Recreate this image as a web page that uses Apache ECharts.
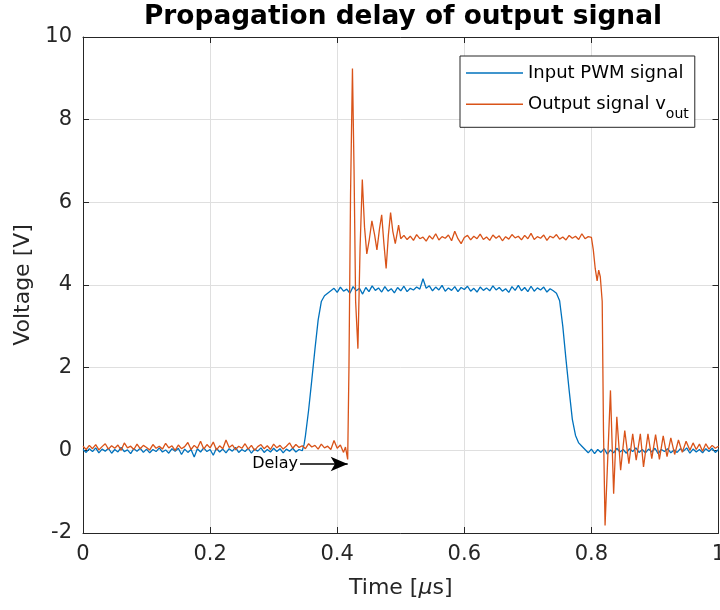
<!DOCTYPE html>
<html>
<head>
<meta charset="utf-8">
<script src="https://cdn.jsdelivr.net/npm/echarts@6/dist/echarts.min.js"></script>
<style>
html,body{margin:0;padding:0;background:#fff;}
#chart{width:720px;height:610px;}
</style>
</head>
<body>
<div id="chart"></div>
<script>
// ---- data (time in µs, voltage in V) ----
const inputName = 'Input PWM signal';
const outputName = 'Output signal vout';

const inputSignal = [
[0.000,0.02],[0.005,-0.05],[0.010,0.04],[0.015,-0.03],[0.020,0.06],[0.025,-0.06],[0.030,0.03],[0.035,-0.02],[0.040,0.05],[0.045,-0.07],
[0.050,0.02],[0.055,-0.04],[0.060,0.07],[0.065,-0.03],[0.070,0.01],[0.075,-0.08],[0.080,0.04],[0.085,-0.02],[0.090,0.05],[0.095,-0.05],
[0.100,0.03],[0.105,-0.06],[0.110,0.02],[0.115,-0.03],[0.120,0.06],[0.125,-0.04],[0.130,0.01],[0.135,-0.07],[0.140,0.04],[0.145,-0.02],
[0.150,0.05],[0.155,-0.10],[0.160,0.03],[0.165,-0.05],[0.170,0.02],[0.175,-0.16],[0.180,0.04],[0.185,-0.04],[0.190,0.06],[0.195,-0.03],
[0.200,0.02],[0.205,-0.12],[0.210,0.05],[0.215,-0.04],[0.220,0.03],[0.225,-0.06],[0.230,0.04],[0.235,-0.02],[0.240,0.07],[0.245,-0.05],
[0.250,0.02],[0.255,-0.03],[0.260,0.05],[0.265,-0.07],[0.270,0.03],[0.275,-0.02],[0.280,0.06],[0.285,-0.05],[0.290,0.02],[0.295,-0.04],
[0.300,0.05],[0.305,-0.03],[0.310,0.04],[0.315,-0.06],[0.320,0.03],[0.325,-0.02],[0.330,0.05],[0.335,-0.04],[0.340,0.02],[0.345,-0.01],
[0.348,0.15],[0.350,0.35],[0.355,0.97],[0.360,1.70],[0.365,2.45],[0.370,3.15],[0.375,3.60],[0.380,3.74],[0.385,3.80],[0.390,3.86],
[0.395,3.92],[0.400,3.82],[0.405,3.95],[0.410,3.85],[0.415,3.90],[0.420,3.80],[0.425,3.96],[0.430,3.86],[0.435,3.92],[0.440,3.78],
[0.445,3.94],[0.450,3.84],[0.455,3.98],[0.460,3.87],[0.465,3.93],[0.470,3.83],[0.475,3.96],[0.480,3.85],[0.485,3.91],[0.490,3.81],
[0.495,3.94],[0.500,3.86],[0.505,3.97],[0.510,3.84],[0.515,3.92],[0.520,3.88],[0.525,3.95],[0.530,3.90],[0.535,4.15],[0.540,3.92],
[0.545,3.98],[0.550,3.86],[0.555,3.95],[0.560,3.88],[0.565,3.99],[0.570,3.85],[0.575,3.93],[0.580,3.87],[0.585,3.96],[0.590,3.84],
[0.595,3.94],[0.600,3.89],[0.605,3.97],[0.610,3.85],[0.615,3.92],[0.620,3.83],[0.625,3.95],[0.630,3.87],[0.635,3.93],[0.640,3.86],
[0.645,3.98],[0.650,3.88],[0.655,3.94],[0.660,3.85],[0.665,3.91],[0.670,3.82],[0.675,3.96],[0.680,3.87],[0.685,3.99],[0.690,3.86],
[0.695,3.94],[0.700,3.84],[0.705,3.97],[0.710,3.85],[0.715,3.93],[0.720,3.88],[0.725,3.95],[0.730,3.83],[0.735,3.91],[0.740,3.86],
[0.745,3.80],[0.750,3.62],[0.755,3.00],[0.760,2.20],[0.765,1.45],[0.770,0.75],[0.775,0.36],[0.780,0.18],[0.785,0.10],[0.790,0.02],
[0.795,-0.06],[0.800,0.03],[0.805,-0.08],[0.810,0.02],[0.815,-0.05],[0.820,0.04],[0.825,-0.09],[0.830,0.01],[0.835,-0.06],[0.840,0.05],
[0.845,-0.04],[0.850,0.02],[0.855,-0.07],[0.860,0.04],[0.865,-0.03],[0.870,0.06],[0.875,-0.05],[0.880,0.02],[0.885,-0.06],[0.890,0.03],
[0.895,-0.04],[0.900,0.05],[0.905,-0.08],[0.910,0.02],[0.915,-0.03],[0.920,0.04],[0.925,-0.06],[0.930,0.01],[0.935,-0.05],[0.940,0.04],
[0.945,-0.02],[0.950,0.06],[0.955,-0.07],[0.960,0.03],[0.965,-0.04],[0.970,0.02],[0.975,-0.06],[0.980,0.04],[0.985,-0.03],[0.990,0.05],
[0.995,-0.05],[1.000,0.02]
];

const outputSignal = [
[0.000,0.10],[0.005,0.02],[0.010,0.12],[0.015,0.04],[0.020,0.14],[0.025,0.01],[0.030,0.09],[0.035,0.16],[0.040,0.03],[0.045,0.11],
[0.050,0.05],[0.055,0.13],[0.060,0.00],[0.065,0.18],[0.070,0.06],[0.075,0.10],[0.080,0.02],[0.085,0.15],[0.090,0.04],[0.095,0.12],
[0.100,0.07],[0.105,0.01],[0.110,0.14],[0.115,0.05],[0.120,0.10],[0.125,0.03],[0.130,0.17],[0.135,0.06],[0.140,0.11],[0.145,0.00],
[0.150,0.13],[0.155,0.04],[0.160,0.09],[0.165,0.19],[0.170,0.02],[0.175,0.12],[0.180,0.05],[0.185,0.22],[0.190,0.03],[0.195,0.14],
[0.200,0.06],[0.205,0.20],[0.210,0.01],[0.215,0.11],[0.220,0.04],[0.225,0.25],[0.230,0.07],[0.235,0.13],[0.240,0.02],[0.245,0.10],
[0.250,0.05],[0.255,0.16],[0.260,0.03],[0.265,0.12],[0.270,0.00],[0.275,0.09],[0.280,0.14],[0.285,0.04],[0.290,0.11],[0.295,0.02],
[0.300,0.15],[0.305,0.06],[0.310,0.12],[0.315,0.03],[0.320,0.10],[0.325,0.18],[0.330,0.05],[0.335,0.14],[0.340,0.07],[0.345,0.11],
[0.350,0.04],[0.355,0.16],[0.360,0.08],[0.365,0.12],[0.370,0.03],[0.375,0.15],[0.380,0.06],[0.385,0.10],[0.390,0.02],[0.395,0.24],
[0.400,0.05],[0.405,0.13],[0.410,-0.05],[0.413,0.08],[0.4165,-0.22],
[0.4185,2.00],[0.4210,6.20],[0.4240,9.24],[0.4265,6.80],[0.4290,3.60],[0.4326,2.46],[0.4360,4.90],[0.4395,6.55],[0.4430,5.40],[0.4466,4.75],
[0.4505,5.10],[0.4546,5.55],[0.4590,5.20],[0.4625,4.85],[0.4665,5.35],[0.4700,5.70],[0.4735,5.00],[0.4770,4.40],[0.4805,5.20],[0.4840,5.75],
[0.4875,5.30],[0.4914,5.00],[0.4966,5.45],[0.5000,5.12],
[0.505,5.20],[0.510,5.10],[0.515,5.18],[0.520,5.08],[0.525,5.22],[0.530,5.12],[0.535,5.16],[0.540,5.06],[0.545,5.19],[0.550,5.11],
[0.555,5.24],[0.560,5.09],[0.565,5.17],[0.570,5.13],[0.575,5.21],[0.580,5.07],[0.585,5.30],[0.590,5.12],[0.595,5.00],[0.600,5.15],
[0.605,5.20],[0.610,5.09],[0.615,5.18],[0.620,5.12],[0.625,5.23],[0.630,5.10],[0.635,5.16],[0.640,5.08],[0.645,5.21],[0.650,5.13],
[0.655,5.19],[0.660,5.07],[0.665,5.17],[0.670,5.11],[0.675,5.22],[0.680,5.14],[0.685,5.18],[0.690,5.09],[0.695,5.20],[0.700,5.12],
[0.705,5.25],[0.710,5.10],[0.715,5.17],[0.720,5.13],[0.725,5.21],[0.730,5.08],[0.735,5.18],[0.740,5.14],[0.745,5.22],[0.750,5.11],
[0.755,5.16],[0.760,5.09],[0.765,5.20],[0.770,5.13],[0.775,5.18],[0.780,5.10],[0.785,5.24],[0.790,5.12],[0.795,5.17],[0.800,5.15],
[0.803,4.85],[0.806,4.40],[0.809,4.10],[0.8115,4.36],[0.814,4.20],[0.817,3.60],[0.819,0.50],[0.8215,-1.82],[0.830,1.45],[0.835,-1.05],
[0.840,0.81],[0.846,-0.48],[0.8525,0.48],[0.859,-0.32],[0.865,0.40],[0.8705,-0.24],[0.877,0.40],[0.882,-0.40],[0.889,0.40],[0.895,-0.20],
[0.901,0.38],[0.907,-0.22],[0.913,0.35],[0.919,-0.15],[0.925,0.30],[0.931,-0.10],[0.937,0.25],[0.943,-0.05],[0.949,0.22],[0.955,0.00],
[0.960,0.18],[0.965,0.02],[0.970,0.15],[0.975,-0.02],[0.980,0.16],[0.985,0.03],[0.990,0.12],[0.995,0.05],[1.000,0.10]
];

// annotation "Delay" arrow (data coordinates)
const delayArrowStart = [0.3415, -0.33];
const delayArrowEnd = [0.4165, -0.33];

const xRange = [0, 1, 0.2];
const yRange = [-2, 10, 2];

// ---- chart ----
const FONT = 'DejaVu Sans';
const AXIS_COLOR = '#262626';
const GRID_COLOR = '#dfdfdf';

const chart = echarts.init(document.getElementById('chart'), null, {renderer: 'canvas'});

function baseAxisLine() {
  return { show: true, onZero: false, lineStyle: { color: AXIS_COLOR, width: 1 } };
}
function baseTick() {
  return { show: true, inside: true, length: 6, lineStyle: { color: AXIS_COLOR, width: 1 } };
}

const option = {
  animation: false,
  backgroundColor: '#ffffff',
  textStyle: { fontFamily: FONT },
  title: {
    text: 'Propagation delay of output signal',
    left: 398, top: -1, textAlign: 'center',
    textStyle: { fontFamily: FONT, fontSize: 26.4, fontWeight: 'bold', color: '#000' }
  },
  grid: { left: 83, top: 37, width: 635.5, height: 496, outerBoundsMode: 'none', containLabel: false },
  legend: {
    orient: 'vertical',
    left: 460, top: 56,
    padding: [5, 6, 6, 6],
    itemGap: 2.3,
    itemWidth: 57, itemHeight: 1.5,
    icon: 'rect',
    borderColor: AXIS_COLOR, borderWidth: 1, borderRadius: 0,
    backgroundColor: '#ffffff',
    data: [inputName, outputName],
    formatter: function (name) {
      return name === outputName ? 'Output signal v{sub|out}' : name;
    },
    textStyle: {
      fontFamily: FONT, fontSize: 18, color: '#000', lineHeight: 24,
      rich: { sub: { fontFamily: FONT, fontSize: 14, color: '#000', lineHeight: 4, padding: [20, 0, 0, 0] } }
    }
  },
  xAxis: [
    {
      type: 'value', min: xRange[0], max: xRange[1], interval: xRange[2], position: 'bottom',
      axisLine: baseAxisLine(), axisTick: baseTick(),
      axisLabel: { color: AXIS_COLOR, fontFamily: FONT, fontSize: 21, margin: 11,
        formatter: v => String(parseFloat(v.toFixed(1))) },
      splitLine: { show: true, lineStyle: { color: GRID_COLOR, width: 1 } },
      name: 'Time [{mu|µ}s]', nameLocation: 'middle', nameGap: 44,
      nameTextStyle: { color: AXIS_COLOR, fontFamily: FONT, fontSize: 22,
        rich: { mu: { fontFamily: FONT, fontSize: 22, fontStyle: 'italic', color: AXIS_COLOR } } }
    },
    {
      type: 'value', min: xRange[0], max: xRange[1], interval: xRange[2], position: 'top',
      axisLine: baseAxisLine(), axisTick: baseTick(),
      axisLabel: { show: false }, splitLine: { show: false }
    }
  ],
  yAxis: [
    {
      type: 'value', min: yRange[0], max: yRange[1], interval: yRange[2], position: 'left',
      axisLine: baseAxisLine(), axisTick: baseTick(),
      axisLabel: { color: AXIS_COLOR, fontFamily: FONT, fontSize: 21, margin: 11 },
      splitLine: { show: true, lineStyle: { color: GRID_COLOR, width: 1 } },
      name: 'Voltage [V]', nameLocation: 'middle', nameGap: 41, nameRotate: 90,
      nameTextStyle: { color: AXIS_COLOR, fontFamily: FONT, fontSize: 22 }
    },
    {
      type: 'value', min: yRange[0], max: yRange[1], interval: yRange[2], position: 'right',
      axisLine: baseAxisLine(), axisTick: baseTick(),
      axisLabel: { show: false }, splitLine: { show: false }
    }
  ],
  series: [
    {
      name: inputName, type: 'line', xAxisIndex: 0, yAxisIndex: 0,
      data: inputSignal, showSymbol: false, symbol: 'none',
      lineStyle: { color: '#0072BD', width: 1.3 }, itemStyle: { color: '#0072BD' },
      emphasis: { disabled: true }
    },
    {
      name: outputName, type: 'line', xAxisIndex: 0, yAxisIndex: 0,
      data: outputSignal, showSymbol: false, symbol: 'none',
      lineStyle: { color: '#D95319', width: 1.3 }, itemStyle: { color: '#D95319' },
      emphasis: { disabled: true },
      markLine: {
        silent: true, animation: false,
        symbol: ['none', 'arrow'], symbolSize: [11, 17],
        lineStyle: { color: '#000', width: 1.5, type: 'solid' },
        label: { show: true, position: 'start', formatter: 'Delay', color: '#000',
          fontFamily: FONT, fontSize: 16, distance: 2 },
        emphasis: { disabled: true },
        data: [[ { coord: delayArrowStart }, { coord: delayArrowEnd } ]]
      }
    }
  ]
};

chart.setOption(option);
</script>
</body>
</html>
